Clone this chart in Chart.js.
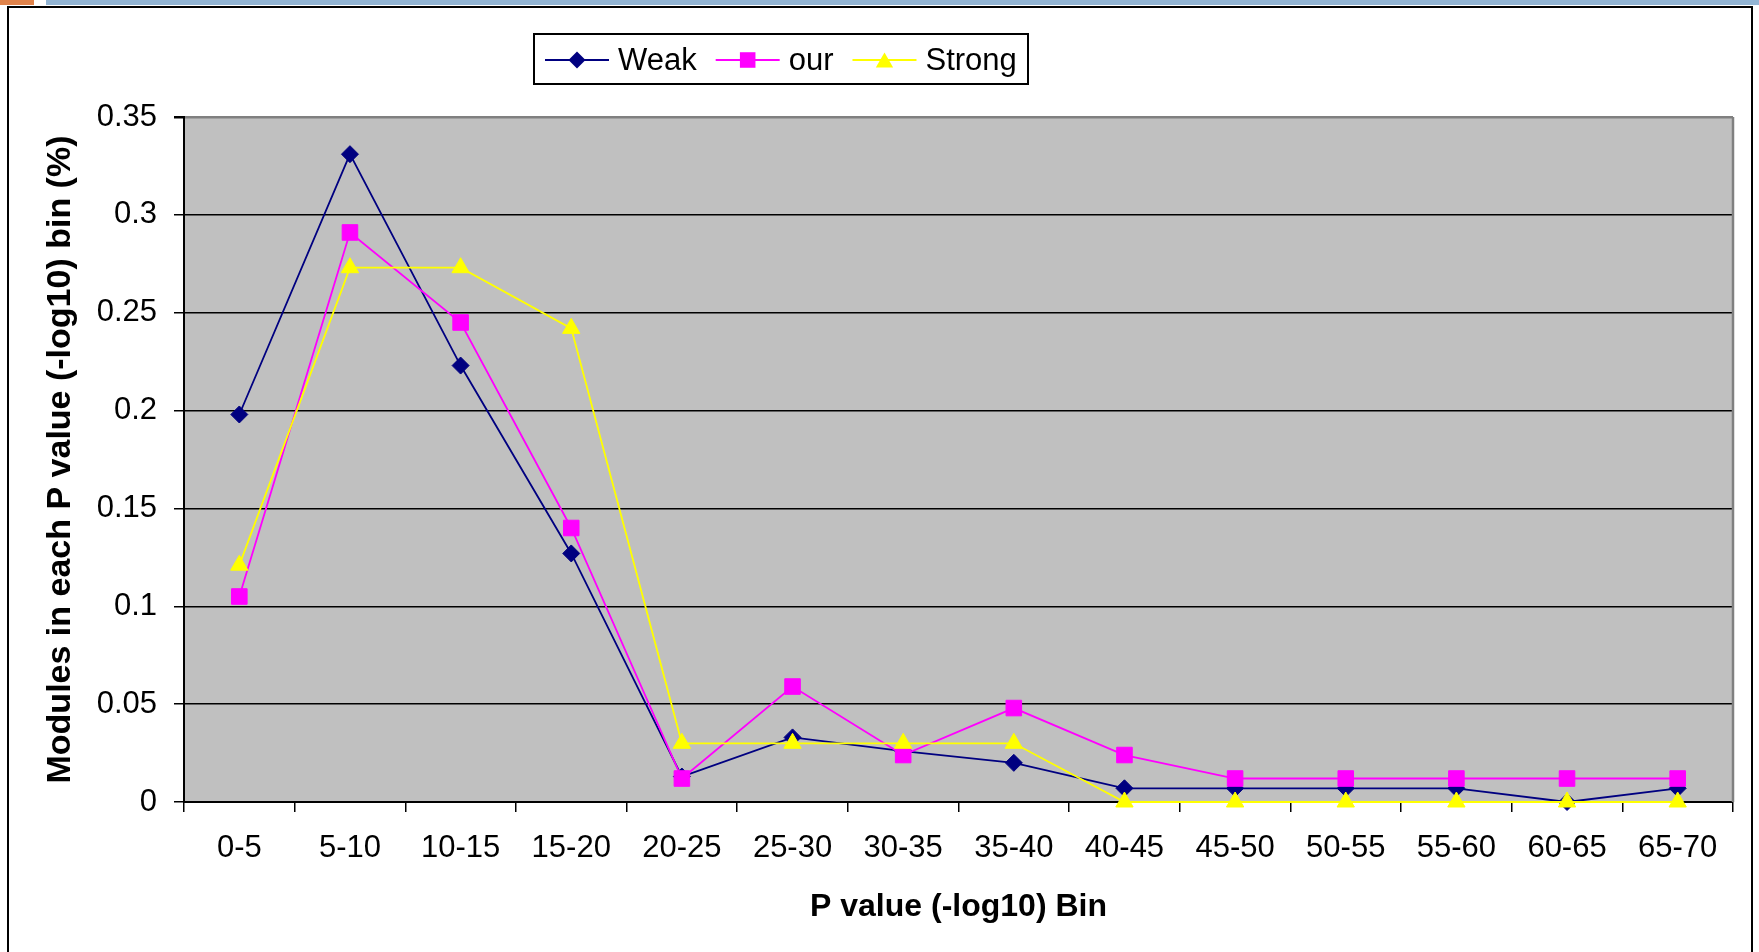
<!DOCTYPE html>
<html>
<head>
<meta charset="utf-8">
<title>Modules per P value bin</title>
<script src="https://cdn.jsdelivr.net/npm/chart.js@4/dist/chart.umd.min.js"></script>
<style>
  html, body { margin: 0; padding: 0; background: #fff; overflow: hidden; }
  canvas { display: block; }
</style>
</head>
<body>
<canvas id="chart" width="1759" height="952"></canvas>
<script>
// P value (-log10) bins on the x axis
const categories = ['0-5', '5-10', '10-15', '15-20', '20-25', '25-30', '30-35',
                    '35-40', '40-45', '45-50', '50-55', '55-60', '60-65', '65-70'];

// Share of modules falling in each bin
const weak   = [0.198, 0.331, 0.223, 0.127, 0.013, 0.033, 0.026, 0.020, 0.007, 0.007, 0.007, 0.007, 0.000, 0.007];
const our    = [0.105, 0.291, 0.245, 0.140, 0.012, 0.059, 0.024, 0.048, 0.024, 0.012, 0.012, 0.012, 0.012, 0.012];
const strong = [0.121, 0.273, 0.273, 0.242, 0.030, 0.030, 0.030, 0.030, 0.000, 0.000, 0.000, 0.000, 0.000, 0.000];

const seriesNames = ['Weak', 'our', 'Strong'];

// Y axis ticks and their printed labels
const yTickValues = [0, 0.05, 0.1, 0.15, 0.2, 0.25, 0.3, 0.35];
const yTickLabels = ['0', '0.05', '0.1', '0.15', '0.2', '0.25', '0.3', '0.35'];

const FONT = '"Liberation Sans", Arial, Helvetica, sans-serif';

// Outer frame, header strip and grey plot background
const framePlugin = {
  id: 'frame',
  beforeDraw(chart) {
    const ctx = chart.ctx;
    const { left, top, right, bottom } = chart.chartArea;
    ctx.save();
    ctx.fillStyle = '#ffffff';
    ctx.fillRect(0, 0, chart.width, chart.height);
    ctx.fillStyle = '#E0834B';
    ctx.fillRect(0, 0, 34, 5);
    ctx.fillStyle = '#93B5D4';
    ctx.fillRect(46, 0, chart.width - 46, 5);
    ctx.strokeStyle = '#000';
    ctx.lineWidth = 2;
    ctx.beginPath();
    ctx.moveTo(8, chart.height + 4);
    ctx.lineTo(8, 7);
    ctx.lineTo(1752, 7);
    ctx.lineTo(1752, chart.height + 4);
    ctx.stroke();
    ctx.fillStyle = '#C0C0C0';
    ctx.fillRect(left, top, right - left, bottom - top);
    ctx.restore();
  },
  beforeDatasetsDraw(chart) {
    const ctx = chart.ctx;
    const { top, right, bottom } = chart.chartArea;
    ctx.save();
    ctx.strokeStyle = '#808080';
    ctx.lineWidth = 2.5;
    ctx.beginPath();
    ctx.moveTo(right, top);
    ctx.lineTo(right, bottom);
    ctx.stroke();
    ctx.restore();
  }
};

function drawMarker(ctx, style, x, y, r, color) {
  ctx.fillStyle = color;
  ctx.beginPath();
  if (style === 'rectRot') {
    ctx.moveTo(x, y - r);
    ctx.lineTo(x + r, y);
    ctx.lineTo(x, y + r);
    ctx.lineTo(x - r, y);
  } else if (style === 'rect') {
    const s = r * Math.SQRT1_2;
    ctx.rect(x - s, y - s, 2 * s, 2 * s);
  } else {
    for (let k = 0; k < 3; k++) {
      const a = k * 2 * Math.PI / 3;
      ctx.lineTo(x + Math.sin(a) * r, y - Math.cos(a) * r + r / 4);
    }
  }
  ctx.closePath();
  ctx.fill();
}

// Boxed legend with a line and marker sample for each series
const boxLegend = {
  id: 'boxLegend',
  afterDraw(chart) {
    const ctx = chart.ctx;
    const boxL = 534, boxT = 34, boxR = 1028, boxB = 84;
    const cy = 60;
    ctx.save();
    ctx.fillStyle = '#fff';
    ctx.fillRect(boxL, boxT, boxR - boxL, boxB - boxT);
    ctx.strokeStyle = '#000';
    ctx.lineWidth = 2;
    ctx.strokeRect(boxL, boxT, boxR - boxL, boxB - boxT);
    ctx.font = '31px ' + FONT;
    ctx.textBaseline = 'middle';
    ctx.textAlign = 'left';
    let x = 545;
    chart.data.datasets.forEach(ds => {
      ctx.strokeStyle = ds.borderColor;
      ctx.lineWidth = ds.borderWidth;
      ctx.beginPath();
      ctx.moveTo(x, cy);
      ctx.lineTo(x + 64, cy);
      ctx.stroke();
      drawMarker(ctx, ds.pointStyle, x + 32, cy, ds.pointRadius, ds.backgroundColor);
      ctx.fillStyle = '#000';
      ctx.fillText(ds.label, x + 73, cy + 1);
      x += 73 + ctx.measureText(ds.label).width + 19;
    });
    ctx.restore();
  }
};

new Chart(document.getElementById('chart'), {
  type: 'line',
  data: {
    labels: categories,
    datasets: [
      {
        label: seriesNames[0], data: weak,
        borderColor: '#000080', backgroundColor: '#000080',
        pointStyle: 'rectRot', pointRadius: 8.5, pointBorderWidth: 1,
        borderWidth: 1.8, tension: 0, clip: false, order: 2
      },
      {
        label: seriesNames[1], data: our,
        borderColor: '#FF00FF', backgroundColor: '#FF00FF',
        pointStyle: 'rect', pointRadius: 11, pointBorderWidth: 1,
        borderWidth: 1.8, tension: 0, clip: false, order: 1
      },
      {
        label: seriesNames[2], data: strong,
        borderColor: '#FFFF00', backgroundColor: '#FFFF00',
        pointStyle: 'triangle', pointRadius: 10, pointBorderWidth: 1,
        borderWidth: 1.8, tension: 0, clip: false, order: 0
      }
    ]
  },
  options: {
    responsive: false,
    animation: false,
    events: [],
    devicePixelRatio: 1,
    layout: { padding: { left: 0, top: 117, right: 26, bottom: 0 } },
    plugins: {
      legend: { display: false },
      tooltip: { enabled: false },
      title: { display: false }
    },
    scales: {
      x: {
        type: 'category',
        offset: true,
        grid: {
          offset: true, drawOnChartArea: false, drawTicks: true, tickLength: 10,
          color: '#000', tickColor: '#000', lineWidth: 1.5
        },
        border: { display: true, color: '#000', width: 2 },
        ticks: {
          color: '#000', font: { family: FONT, size: 31 }, padding: 18,
          autoSkip: false, maxRotation: 0, minRotation: 0
        },
        title: {
          display: true, text: 'P value (-log10) Bin', color: '#000',
          font: { family: FONT, size: 32, weight: 'bold' },
          padding: { top: 0, bottom: 26 }
        },
        afterFit(scale) { scale.height = 150; }
      },
      y: {
        min: 0,
        max: 0.35,
        afterBuildTicks(scale) { scale.ticks = yTickValues.map(v => ({ value: v })); },
        grid: {
          color: c => (c.tick && c.tick.value === 0.35) ? '#808080' : '#000',
          lineWidth: c => (c.tick && c.tick.value === 0.35) ? 2.5 : 1.5,
          tickColor: '#000',
          tickLength: 10
        },
        border: { display: true, color: '#000', width: 2 },
        ticks: {
          color: '#000', font: { family: FONT, size: 31 }, padding: 17,
          callback: v => yTickLabels[yTickValues.indexOf(v)]
        },
        title: {
          display: true, text: 'Modules in each P value (-log10) bin (%)', color: '#000',
          font: { family: FONT, size: 34, weight: 'bold' },
          padding: { top: 40, bottom: 0 }
        },
        afterFit(scale) { scale.width = 184; }
      }
    }
  },
  plugins: [framePlugin, boxLegend]
});
</script>
</body>
</html>
